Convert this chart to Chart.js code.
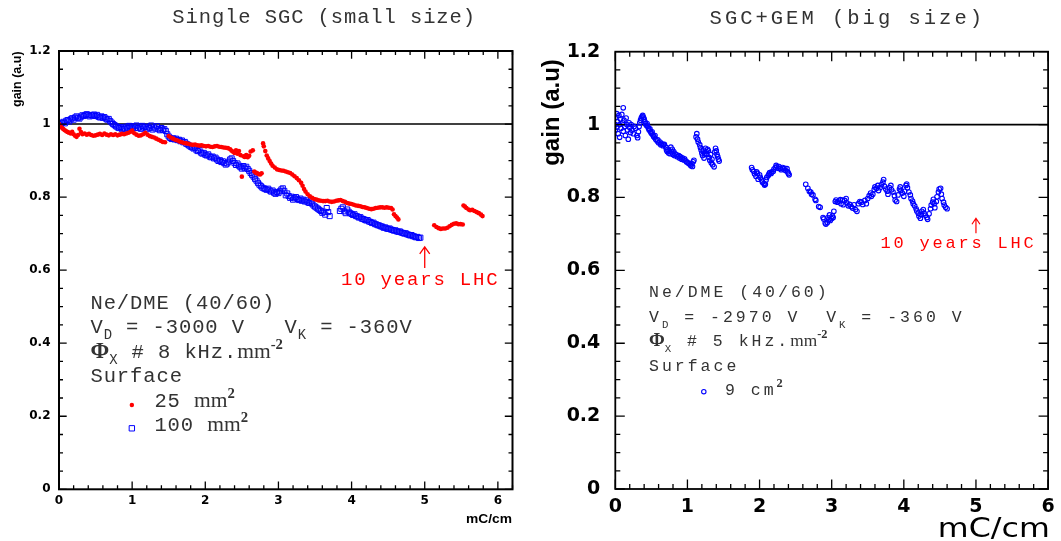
<!DOCTYPE html>
<html><head><meta charset="utf-8">
<script src="https://cdn.jsdelivr.net/npm/chart.js@4.4.1/dist/chart.umd.min.js"></script>
<style>
html,body{margin:0;padding:0;background:#fff;width:1061px;height:541px;overflow:hidden}
.wrap{position:absolute;top:0;height:541px}
#w1{left:0;width:530px}
#w2{left:530px;width:531px}
</style></head><body>
<div class="wrap" id="w1"><canvas id="c1" width="530" height="541"></canvas></div>
<div class="wrap" id="w2"><canvas id="c2" width="531" height="541"></canvas></div>
<script>
// ---------------- DATA ----------------
const panelTitles = ['Single SGC (small size)', 'SGC+GEM (big size)'];
const xTitle = 'mC/cm';
const yTitle = 'gain (a.u)';
const xRangeLeft = [0, 6.2];
const xRangeRight = [0, 6];
const yRange = [0, 1.2];
const xMajorStep = 1, xMinorStep = 0.2, yMajorStep = 0.2, yMinorStep = 0.05;
const referenceGain = 1;
const lhcDose = 5; // "10 years LHC"

// Single SGC, 25 mm2 (red dots)
const gain25mm2 = [
[0.00,1.000],[0.02,0.995],[0.04,0.990],[0.06,0.986],[0.08,0.983],[0.10,0.980],[0.12,0.978],[0.14,0.976],[0.16,0.974],[0.18,0.979],[0.20,0.972],[0.22,0.968],[0.24,0.965],[0.26,0.970],[0.28,0.987],[0.30,0.978],[0.32,0.972],[0.35,0.974],[0.38,0.971],[0.41,0.973],[0.44,0.970],[0.47,0.968],[0.50,0.969],[0.53,0.971],[0.56,0.973],[0.59,0.970],[0.62,0.974],[0.65,0.971],[0.68,0.969],[0.71,0.972],[0.74,0.970],[0.77,0.972],[0.80,0.969],[0.83,0.971],[0.86,0.973],[0.89,0.972],[0.92,0.974],[0.95,0.976],[0.98,0.979],[1.00,0.982],[1.03,0.975],[1.06,0.971],[1.09,0.968],[1.12,0.969],[1.15,0.972],[1.18,0.976],[1.21,0.971],[1.24,0.967],[1.27,0.965],[1.30,0.963],[1.33,0.960],[1.36,0.957],[1.39,0.954],[1.42,0.951],[1.45,0.950],
[1.50,0.967],[1.53,0.963],[1.56,0.960],[1.59,0.957],[1.62,0.955],[1.65,0.952],[1.68,0.950],[1.71,0.948],[1.74,0.947],[1.77,0.946],[1.80,0.944],[1.83,0.943],[1.86,0.944],[1.89,0.942],[1.92,0.941],[1.95,0.942],[1.98,0.940],[2.01,0.939],[2.04,0.940],[2.07,0.938],[2.10,0.937],[2.13,0.939],[2.16,0.940],[2.19,0.938],[2.22,0.937],[2.25,0.936],[2.28,0.935],[2.31,0.934],[2.34,0.931],[2.36,0.927],[2.38,0.924],[2.40,0.921],[2.42,0.928],[2.44,0.919],[2.46,0.926],[2.48,0.915],[2.50,0.856],[2.52,0.912],[2.54,0.910],[2.56,0.915],[2.58,0.909],[2.60,0.913],[2.62,0.925],[2.65,0.928],[2.67,0.870],[2.69,0.867],[2.71,0.865],[2.73,0.863],[2.75,0.862],[2.77,0.865],
[2.79,0.947],[2.80,0.939],[2.82,0.926],[2.84,0.914],[2.86,0.906],[2.88,0.899],[2.90,0.892],[2.92,0.886],[2.95,0.881],[2.98,0.876],[3.01,0.874],[3.04,0.873],[3.07,0.872],[3.10,0.870],[3.13,0.868],[3.16,0.866],[3.19,0.862],[3.22,0.857],[3.25,0.852],[3.28,0.846],[3.31,0.839],[3.33,0.831],[3.35,0.822],[3.37,0.815],[3.40,0.808],[3.43,0.802],[3.46,0.798],[3.49,0.795],[3.52,0.793],[3.55,0.791],[3.58,0.790],[3.61,0.789],[3.64,0.789],[3.67,0.790],[3.70,0.788],[3.73,0.787],[3.76,0.788],[3.79,0.790],[3.82,0.791],[3.85,0.792],[3.88,0.789],[3.91,0.787],[3.94,0.784],[3.97,0.782],[4.00,0.781],[4.03,0.779],[4.06,0.777],[4.09,0.776],[4.12,0.775],[4.15,0.773],[4.18,0.772],[4.21,0.770],[4.24,0.768],[4.27,0.767],[4.30,0.768],[4.33,0.770],[4.36,0.771],[4.39,0.772],[4.42,0.772],[4.45,0.771],[4.48,0.772],[4.51,0.771],[4.54,0.770],[4.56,0.766],[4.58,0.753],[4.60,0.748],[4.62,0.744],[4.64,0.739],
[5.13,0.723],[5.16,0.718],[5.19,0.715],[5.22,0.713],[5.25,0.714],[5.28,0.714],[5.31,0.716],[5.34,0.720],[5.37,0.724],[5.40,0.727],[5.43,0.728],[5.46,0.726],[5.49,0.726],[5.52,0.725],
[5.53,0.777],[5.55,0.774],[5.57,0.770],[5.60,0.766],[5.62,0.764],[5.65,0.765],[5.68,0.762],[5.71,0.759],[5.74,0.756],[5.77,0.752],[5.79,0.748]
];

// Single SGC, 100 mm2 (blue open squares)
const gain100mm2 = [
[0.00,1.000],[0.02,0.996],[0.04,1.003],[0.06,1.006],[0.08,1.002],[0.10,1.009],[0.12,1.011],[0.14,1.007],[0.16,1.013],[0.18,1.016],[0.20,1.012],[0.22,1.018],[0.24,1.021],[0.26,1.017],[0.28,1.015],[0.30,1.020],[0.32,1.024],[0.34,1.022],[0.36,1.025],[0.38,1.027],[0.40,1.024],[0.42,1.021],[0.44,1.025],[0.46,1.023],[0.48,1.026],[0.50,1.022],[0.52,1.025],[0.54,1.020],[0.56,1.018],[0.58,1.021],[0.60,1.017],[0.62,1.019],[0.64,1.015],[0.66,1.012],[0.68,1.014],[0.70,1.008],[0.72,1.004],[0.74,1.000],[0.76,0.997],[0.78,0.994],[0.80,0.991],[0.82,0.989],[0.84,0.992],[0.86,0.986],[0.88,0.990],[0.90,0.987],[0.92,0.993],[0.94,0.989],[0.96,0.995],[0.98,0.991],[1.00,0.988],[1.02,0.994],[1.04,0.990],[1.06,0.996],[1.08,0.989],[1.10,0.993],[1.12,0.987],[1.14,0.995],[1.16,0.990],[1.18,0.992],[1.20,0.986],[1.22,0.993],[1.24,0.989],[1.26,0.996],[1.28,0.985],[1.30,0.991],[1.32,0.988],[1.34,0.994],[1.36,0.986],[1.38,0.983],[1.40,0.989],[1.42,0.984],[1.44,0.986],[1.46,0.981],[1.48,0.972],
[1.50,0.966],[1.52,0.962],[1.54,0.959],[1.56,0.961],[1.58,0.958],[1.60,0.960],[1.62,0.956],[1.64,0.957],[1.66,0.953],[1.68,0.955],[1.70,0.950],[1.72,0.951],[1.74,0.946],[1.76,0.944],[1.78,0.941],[1.80,0.938],[1.82,0.936],[1.84,0.933],[1.86,0.935],[1.88,0.928],[1.90,0.926],[1.92,0.929],[1.94,0.922],[1.96,0.919],[1.98,0.921],[2.00,0.916],[2.02,0.914],[2.04,0.917],[2.06,0.911],[2.08,0.909],[2.10,0.911],[2.12,0.906],[2.14,0.908],[2.16,0.903],[2.18,0.899],[2.20,0.901],[2.22,0.896],[2.24,0.898],[2.26,0.893],[2.28,0.889],[2.30,0.892],[2.32,0.897],[2.34,0.903],[2.36,0.906],[2.38,0.899],[2.40,0.893],[2.42,0.888],[2.44,0.892],[2.46,0.886],[2.48,0.882],[2.50,0.878],[2.52,0.885],[2.54,0.879],[2.56,0.883],[2.58,0.877],[2.60,0.872],[2.62,0.866],[2.64,0.861],[2.66,0.856],[2.68,0.850],[2.70,0.845],[2.72,0.839],[2.74,0.834],[2.76,0.830],[2.78,0.826],[2.80,0.824],[2.82,0.822],[2.84,0.820],[2.86,0.823],[2.88,0.818],[2.90,0.815],[2.92,0.818],[2.94,0.812],[2.96,0.809],[2.98,0.814],[3.00,0.811],[3.02,0.816],[3.04,0.821],[3.06,0.824],[3.08,0.817],[3.10,0.805],[3.12,0.810],[3.14,0.803],[3.16,0.798],[3.18,0.801],[3.20,0.793],[3.22,0.797],[3.24,0.800],[3.26,0.795],[3.28,0.792],[3.30,0.796],[3.32,0.790],[3.34,0.793],[3.36,0.788],[3.38,0.791],[3.40,0.786],[3.42,0.784],[3.44,0.788],[3.46,0.782],[3.48,0.777],[3.50,0.774],[3.52,0.771],[3.54,0.768],[3.56,0.765],[3.58,0.762],[3.60,0.757],[3.62,0.760],[3.64,0.752],[3.66,0.770],[3.68,0.759],[3.70,0.748],
[3.84,0.762],[3.86,0.768],[3.88,0.772],[3.90,0.761],[3.92,0.756],[3.94,0.766],[3.96,0.760],[3.98,0.756],[4.00,0.754],[4.02,0.751],[4.04,0.753],[4.06,0.748],[4.08,0.747],[4.10,0.744],[4.12,0.745],[4.14,0.741],[4.16,0.740],[4.18,0.738],[4.20,0.736],[4.22,0.737],[4.24,0.733],[4.26,0.732],[4.28,0.729],[4.30,0.730],[4.32,0.726],[4.34,0.725],[4.36,0.723],[4.38,0.722],[4.40,0.720],[4.42,0.719],[4.44,0.716],[4.46,0.717],[4.48,0.714],[4.50,0.713],[4.52,0.714],[4.54,0.711],[4.56,0.710],[4.58,0.708],[4.60,0.709],[4.62,0.706],[4.64,0.705],[4.66,0.706],[4.68,0.703],[4.70,0.702],[4.72,0.700],[4.74,0.701],[4.76,0.698],[4.78,0.697],[4.80,0.695],[4.82,0.696],[4.84,0.693],[4.86,0.692],[4.88,0.690],[4.90,0.691],[4.92,0.688],[4.94,0.689]
];

// SGC+GEM, 9 cm2 (blue open circles)
const gain9cm2 = [
[0.00,1.000],[0.00,0.985],[0.01,1.020],[0.02,1.030],[0.02,0.993],[0.03,1.008],[0.04,0.975],[0.05,1.025],[0.06,1.000],[0.06,0.965],[0.07,1.015],[0.08,0.990],[0.09,1.028],[0.10,1.005],[0.11,1.046],[0.11,0.982],[0.12,1.012],[0.13,0.995],[0.14,0.970],[0.15,1.018],[0.16,1.000],[0.17,0.985],[0.18,0.960],[0.19,1.005],[0.20,0.992],[0.21,0.978],[0.22,1.000],[0.23,0.985],[0.25,0.975],[0.26,0.995],[0.28,0.990],[0.30,0.970],[0.31,0.964],[0.32,0.980],[0.33,0.995],[0.34,1.005],[0.35,1.012],[0.36,1.018],[0.37,1.022],[0.38,1.025],[0.39,1.020],[0.40,1.015],[0.41,1.008],[0.42,1.002],[0.43,0.998],[0.44,1.003],[0.45,0.995],[0.46,0.990],[0.47,0.985],[0.48,0.988],[0.49,0.980],[0.50,0.976],[0.51,0.980],[0.52,0.972],[0.53,0.968],[0.54,0.965],[0.55,0.970],[0.56,0.960],[0.58,0.955],[0.59,0.958],[0.60,0.950],[0.62,0.952],[0.63,0.945],[0.64,0.948],[0.66,0.942],[0.67,0.945],[0.68,0.946],[0.70,0.938],[0.71,0.930],[0.72,0.926],[0.73,0.932],[0.74,0.922],[0.75,0.928],[0.76,0.920],[0.77,0.938],[0.78,0.925],[0.79,0.932],[0.80,0.918],[0.81,0.926],[0.82,0.915],[0.83,0.920],[0.85,0.917],[0.86,0.912],[0.88,0.915],[0.89,0.908],[0.90,0.912],[0.92,0.905],[0.93,0.909],[0.95,0.903],[0.96,0.906],[0.98,0.900],[0.99,0.897],[1.01,0.895],[1.02,0.893],[1.04,0.890],[1.05,0.887],[1.06,0.893],[1.07,0.885],[1.08,0.898],[1.09,0.902],
[1.12,0.966],[1.13,0.975],[1.14,0.960],[1.15,0.952],[1.17,0.945],[1.18,0.937],[1.19,0.930],[1.20,0.922],[1.21,0.915],[1.22,0.930],[1.23,0.908],[1.24,0.920],[1.25,0.935],[1.26,0.926],[1.27,0.918],[1.28,0.932],[1.29,0.928],[1.30,0.910],[1.31,0.902],[1.32,0.918],[1.33,0.895],[1.34,0.905],[1.35,0.890],[1.37,0.884],[1.38,0.925],[1.39,0.935],[1.40,0.928],[1.41,0.918],[1.42,0.912],[1.43,0.905],[1.44,0.900],
[1.89,0.882],[1.90,0.876],[1.92,0.872],[1.93,0.865],[1.95,0.858],[1.96,0.870],[1.97,0.866],[1.98,0.850],[2.00,0.862],[2.01,0.855],[2.03,0.848],[2.04,0.842],[2.06,0.838],[2.07,0.834],[2.08,0.836],[2.09,0.848],[2.10,0.855],[2.12,0.860],[2.13,0.864],[2.14,0.868],[2.16,0.866],[2.17,0.870],[2.19,0.872],[2.20,0.878],[2.22,0.882],[2.23,0.888],[2.24,0.884],[2.26,0.880],[2.27,0.885],[2.29,0.880],[2.30,0.876],[2.32,0.882],[2.33,0.878],[2.35,0.880],[2.36,0.874],[2.38,0.879],[2.39,0.870],[2.40,0.866],[2.41,0.862],
[2.64,0.836],[2.67,0.825],[2.69,0.817],[2.71,0.815],[2.72,0.809],[2.74,0.807],[2.77,0.795],[2.78,0.792],[2.82,0.775],[2.84,0.773],[2.88,0.745],[2.89,0.741],[2.91,0.730],[2.92,0.727],[2.94,0.731],[2.95,0.745],[2.96,0.739],[2.97,0.752],[2.98,0.737],[3.00,0.742],[3.01,0.749],[3.02,0.745],[3.03,0.762],[3.05,0.789],[3.06,0.793],[3.08,0.787],[3.10,0.790],[3.12,0.794],[3.13,0.783],[3.15,0.793],[3.16,0.780],[3.18,0.792],[3.20,0.797],[3.21,0.785],[3.23,0.777],[3.25,0.781],[3.27,0.775],[3.29,0.771],[3.31,0.780],[3.33,0.767],[3.35,0.762],[3.37,0.783],[3.39,0.789],[3.41,0.787],[3.43,0.781],[3.46,0.792],[3.48,0.783],[3.50,0.797],[3.52,0.805],[3.54,0.812],[3.55,0.803],[3.57,0.809],[3.59,0.822],[3.60,0.829],[3.62,0.825],[3.64,0.833],[3.65,0.819],[3.67,0.827],[3.69,0.835],[3.71,0.842],[3.72,0.849],[3.73,0.831],[3.75,0.823],[3.77,0.817],[3.78,0.809],[3.80,0.827],[3.82,0.833],[3.83,0.821],[3.85,0.815],[3.87,0.805],[3.88,0.793],[3.90,0.789],[3.92,0.807],[3.94,0.823],[3.95,0.829],[3.96,0.819],[3.98,0.812],[4.00,0.803],[4.01,0.817],[4.03,0.833],[4.04,0.837],[4.05,0.827],[4.07,0.815],[4.09,0.807],[4.10,0.797],[4.12,0.790],[4.13,0.783],[4.15,0.777],[4.17,0.769],[4.18,0.763],[4.20,0.757],[4.21,0.749],[4.23,0.743],[4.24,0.753],[4.25,0.762],[4.27,0.767],[4.28,0.757],[4.30,0.751],[4.32,0.745],[4.33,0.740],[4.35,0.755],[4.37,0.769],[4.38,0.779],[4.40,0.787],[4.41,0.795],[4.42,0.783],[4.43,0.772],[4.45,0.789],[4.46,0.802],[4.48,0.815],[4.49,0.823],[4.51,0.825],[4.52,0.809],[4.53,0.797],[4.55,0.787],[4.56,0.779],[4.58,0.773],[4.60,0.769]
];

// ---------------- HELPERS ----------------
const MONO = '"Liberation Mono", "DejaVu Sans Mono", monospace';
const SERIF = '"Liberation Serif", "DejaVu Serif", serif';
const toXY = arr => arr.map(p => ({x: p[0], y: p[1]}));

function stepValues(min, max, step) {
  const out = [];
  const n = Math.round((max - min) / step);
  for (let i = 0; i <= n; i++) {
    const v = +(min + i * step).toFixed(6);
    if (v <= max + 1e-9) out.push(v);
  }
  return out;
}
function isMultiple(v, step) { return Math.abs(v / step - Math.round(v / step)) < 1e-6; }

function drawSpaced(ctx, text, x, y, ls) {
  let cx = x;
  for (const ch of text) {
    ctx.fillText(ch, cx, y);
    cx += ctx.measureText(ch).width + ls;
  }
  return cx;
}
function spacedWidth(ctx, text, ls) {
  let w = 0;
  for (const ch of text) w += ctx.measureText(ch).width + ls;
  return w;
}
function drawRich(ctx, segs, x, y, base) {
  let cx = x;
  for (const s of segs) {
    const size = base.size * (s.scale || 1);
    ctx.font = (s.weight || 'normal') + ' ' + size + 'px ' + (s.family || base.family);
    ctx.fillStyle = s.color || base.color;
    const dy = (s.dy || 0) * base.size;
    cx = drawSpaced(ctx, s.t, cx, y + dy, s.ls !== undefined ? s.ls : base.ls);
  }
}
function drawFitted(ctx, text, x, y, font, targetW, align) {
  ctx.font = font;
  const w = ctx.measureText(text).width;
  const sx = targetW / w;
  ctx.save();
  ctx.translate(align === 'right' ? x - targetW : x, y);
  ctx.scale(sx, 1);
  ctx.textAlign = 'left';
  ctx.fillText(text, 0, 0);
  ctx.restore();
}

// frame with inward major/minor ticks on all four sides
const framePlugin = {
  id: 'frame',
  afterDatasetsDraw(chart, args, o) {
    const {ctx, chartArea: a} = chart;
    const xs = chart.scales.x, ys = chart.scales.y;
    ctx.save();
    ctx.strokeStyle = '#000';
    ctx.lineWidth = o.tickWidth;
    ctx.beginPath();
    for (const v of stepValues(xs.min, xs.max, xMinorStep)) {
      const len = isMultiple(v, xMajorStep) ? o.major : o.minor;
      const p = xs.getPixelForValue(v);
      ctx.moveTo(p, a.bottom); ctx.lineTo(p, a.bottom - len);
      ctx.moveTo(p, a.top); ctx.lineTo(p, a.top + len);
    }
    for (const v of stepValues(ys.min, ys.max, yMinorStep)) {
      const len = isMultiple(v, yMajorStep) ? o.major : o.minor;
      const p = ys.getPixelForValue(v);
      ctx.moveTo(a.left, p); ctx.lineTo(a.left + len, p);
      ctx.moveTo(a.right, p); ctx.lineTo(a.right - len, p);
    }
    ctx.stroke();
    ctx.lineWidth = o.frameWidth;
    ctx.strokeRect(a.left, a.top, a.right - a.left, a.bottom - a.top);
    ctx.restore();
  }
};

// titles, axis labels, notes, arrows, legend markers
const textPlugin = {
  id: 'panelText',
  afterDatasetsDraw(chart, args, o) {
    const ctx = chart.ctx;
    const xs = chart.scales.x, ys = chart.scales.y;
    ctx.save();
    ctx.textBaseline = 'alphabetic';
    ctx.textAlign = 'left';
    // title
    const t = o.title;
    ctx.font = t.size + 'px ' + MONO;
    ctx.fillStyle = t.color;
    const tw = spacedWidth(ctx, t.text, t.ls) - t.ls;
    drawSpaced(ctx, t.text, t.cx - tw / 2, t.y, t.ls);
    // y axis title
    const yl = o.yLabel;
    ctx.save();
    ctx.translate(yl.cx, yl.cy);
    ctx.rotate(-Math.PI / 2);
    ctx.font = yl.font;
    ctx.fillStyle = '#000';
    ctx.textAlign = 'center';
    ctx.textBaseline = 'middle';
    ctx.fillText(yTitle, 0, 0);
    ctx.restore();
    // x axis title
    const xl = o.xLabel;
    ctx.fillStyle = '#000';
    ctx.textBaseline = 'alphabetic';
    drawFitted(ctx, xTitle, xl.right, xl.baseline, xl.font, xl.width, 'right');
    // arrow
    const ar = o.arrow;
    const ax = xs.getPixelForValue(lhcDose);
    const ay0 = ys.getPixelForValue(ar.y0), ay1 = ys.getPixelForValue(ar.y1);
    ctx.strokeStyle = ar.color; ctx.lineWidth = ar.width;
    ctx.beginPath();
    ctx.moveTo(ax, ay0); ctx.lineTo(ax, ay1);
    ctx.moveTo(ax - ar.hw, ay1 + ar.hl); ctx.lineTo(ax, ay1); ctx.lineTo(ax + ar.hw, ay1 + ar.hl);
    ctx.stroke();
    // notes
    for (const n of o.notes) {
      drawRich(ctx, n.segs, xs.getPixelForValue(n.at[0]), ys.getPixelForValue(n.at[1]),
               {size: n.size, family: MONO, color: n.color, ls: n.ls});
    }
    // legend markers
    for (const m of o.markers) {
      ctx.fillStyle = m.style.backgroundColor;
      ctx.strokeStyle = m.style.borderColor;
      ctx.lineWidth = m.style.borderWidth;
      Chart.helpers.drawPoint(ctx, m.style, xs.getPixelForValue(m.at[0]), ys.getPixelForValue(m.at[1]));
    }
    ctx.restore();
  }
};

function tickLabel(v) { return String(Math.round(v * 10) / 10); }

function makeChart(canvasId, cfg) {
  return new Chart(document.getElementById(canvasId), {
    type: 'scatter',
    data: { datasets: cfg.datasets },
    options: {
      responsive: false,
      animation: false,
      devicePixelRatio: 1,
      events: [],
      layout: { padding: cfg.padding },
      plugins: {
        legend: { display: false },
        tooltip: { enabled: false },
        title: { display: false },
        frame: cfg.frame,
        panelText: cfg.text
      },
      scales: {
        x: {
          type: 'linear', min: cfg.xRange[0], max: cfg.xRange[1],
          grid: { display: false, drawTicks: false }, border: { display: false },
          ticks: { stepSize: xMajorStep, includeBounds: false, autoSkip: false, maxRotation: 0,
                   padding: cfg.xPad, color: '#000', font: cfg.tickFont, callback: tickLabel },
          afterFit(s) { s.height = cfg.xAxisH; }
        },
        y: {
          type: 'linear', min: yRange[0], max: yRange[1],
          grid: { display: false, drawTicks: false }, border: { display: false },
          ticks: { stepSize: yMajorStep, includeBounds: false, autoSkip: false,
                   padding: cfg.yPad, color: '#000', font: cfg.tickFont, callback: tickLabel },
          afterFit(s) { s.width = cfg.yAxisW; }
        }
      }
    },
    plugins: [framePlugin, textPlugin]
  });
}

const RED = '#ff0000', BLUE = '#0000ff', TXT = '#333333';
const red25Style = { pointStyle: 'circle', radius: 2.2, backgroundColor: RED, borderColor: RED, borderWidth: 0 };
const blue100Style = { pointStyle: 'rect', radius: 3.8, backgroundColor: 'rgba(0,0,0,0)', borderColor: BLUE, borderWidth: 1 };
const blue9Style = { pointStyle: 'circle', radius: 2.2, backgroundColor: 'rgba(0,0,0,0)', borderColor: BLUE, borderWidth: 1.1 };

// ---------------- LEFT PANEL ----------------
makeChart('c1', {
  xRange: xRangeLeft,
  padding: { left: 0, right: 17.5, top: 51, bottom: 0 },
  yAxisW: 59, xAxisH: 51.7, xPad: 4.3, yPad: 8.5,
  tickFont: { family: '"DejaVu Sans", sans-serif', weight: 'bold', size: 12 },
  datasets: [
    { label: '25 mm2', data: toXY(gain25mm2), pointStyle: 'circle', pointRadius: 2.3,
      backgroundColor: RED, borderColor: RED, borderWidth: 0 },
    { label: '100 mm2', data: toXY(gain100mm2), pointStyle: 'rect', pointRadius: 3.6,
      backgroundColor: 'rgba(0,0,0,0)', borderColor: BLUE, borderWidth: 1 },
    { label: 'reference', type: 'line', data: toXY([[xRangeLeft[0], referenceGain], [xRangeLeft[1], referenceGain]]),
      showLine: true, pointRadius: 0, borderColor: '#000', borderWidth: 1.4 }
  ],
  frame: { major: 7.7, minor: 4, tickWidth: 1.3, frameWidth: 2 },
  text: {
    title: { text: panelTitles[0], cx: 323.7, y: 22.7, size: 20.5, ls: 0.9, color: TXT },
    yLabel: { cx: 18, cy: 79.2, font: 'bold 12.5px "Liberation Sans", Arial, sans-serif' },
    xLabel: { right: 512, baseline: 523, width: 46, font: 'bold 13.5px "Liberation Sans", Arial, sans-serif' },
    arrow: { y0: 0.606, y1: 0.664, color: RED, width: 1.3, hw: 5, hl: 7 },
    notes: [
      { at: [3.855, 0.559], size: 19, ls: 1.8, color: RED, segs: [{t: '10 years LHC'}] },
      { at: [0.43, 0.4927], size: 20.5, ls: 0.9, color: TXT, segs: [{t: 'Ne/DME (40/60)'}] },
      { at: [0.43, 0.427], size: 20.5, ls: 0.9, color: TXT, segs: [
        {t: 'V'}, {t: 'D', scale: 0.68, dy: 0.28}, {t: ' = -3000 V   V'}, {t: 'K', scale: 0.68, dy: 0.28}, {t: ' = -360V'}] },
      { at: [0.43, 0.360], size: 20.5, ls: 0.9, color: TXT, segs: [
        {t: 'Φ', family: SERIF, weight: 'bold', scale: 1.1, ls: 0}, {t: 'X', scale: 0.68, dy: 0.28}, {t: ' # 8 kHz.'},
        {t: 'mm', family: SERIF, scale: 1.05, ls: 0}, {t: '-2', family: SERIF, weight: 'bold', scale: 0.72, dy: -0.45, ls: 0}] },
      { at: [0.43, 0.2946], size: 20.5, ls: 0.9, color: TXT, segs: [{t: 'Surface'}] },
      { at: [1.304, 0.2255], size: 20.5, ls: 0.9, color: TXT, segs: [
        {t: '25 '}, {t: 'mm', family: SERIF, scale: 1.05, ls: 0}, {t: '2', family: SERIF, weight: 'bold', scale: 0.72, dy: -0.45}] },
      { at: [1.304, 0.1598], size: 20.5, ls: 0.9, color: TXT, segs: [
        {t: '100 '}, {t: 'mm', family: SERIF, scale: 1.05, ls: 0}, {t: '2', family: SERIF, weight: 'bold', scale: 0.72, dy: -0.45}] }
    ],
    markers: [
      { at: [0.996, 0.2308], style: red25Style },
      { at: [0.996, 0.167], style: blue100Style }
    ]
  }
});

// ---------------- RIGHT PANEL ----------------
makeChart('c2', {
  xRange: xRangeRight,
  padding: { left: 0, right: 10.5, top: 51.7, bottom: 0 },
  yAxisW: 85.3, xAxisH: 52, xPad: 6.3, yPad: 15,
  tickFont: { family: '"DejaVu Sans", sans-serif', weight: 'bold', size: 19 },
  datasets: [
    { label: '9 cm2', data: toXY(gain9cm2), pointStyle: 'circle', pointRadius: 2.3,
      backgroundColor: 'rgba(0,0,0,0)', borderColor: BLUE, borderWidth: 1.1 },
    { label: 'reference', type: 'line', data: toXY([[xRangeRight[0], referenceGain], [xRangeRight[1], referenceGain]]),
      showLine: true, pointRadius: 0, borderColor: '#000', borderWidth: 1.6 }
  ],
  frame: { major: 9.5, minor: 5, tickWidth: 1.3, frameWidth: 1.8 },
  text: {
    title: { text: panelTitles[1], cx: 315.8, y: 24, size: 20.5, ls: 3, color: TXT },
    yLabel: { cx: 22, cy: 112.5, font: 'bold 24px "Liberation Sans", Arial, sans-serif' },
    xLabel: { right: 519.8, baseline: 537, width: 112, font: '26px "DejaVu Sans", sans-serif' },
    arrow: { y0: 0.7017, y1: 0.743, color: RED, width: 1.2, hw: 4, hl: 6 },
    notes: [
      { at: [3.677, 0.6605], size: 17, ls: 2.8, color: RED, segs: [{t: '10 years LHC'}] },
      { at: [0.467, 0.526], size: 16.5, ls: 3, color: TXT, segs: [{t: 'Ne/DME (40/60)'}] },
      { at: [0.467, 0.4575], size: 16.5, ls: 3, color: TXT, segs: [
        {t: 'V'}, {t: 'D', scale: 0.65, dy: 0.35}, {t: ' = -2970 V  V'}, {t: 'K', scale: 0.65, dy: 0.35}, {t: ' = -360 V'}] },
      { at: [0.467, 0.392], size: 16.5, ls: 3, color: TXT, segs: [
        {t: 'Φ', family: SERIF, weight: 'bold', scale: 1.15, ls: 0}, {t: 'X', scale: 0.65, dy: 0.35}, {t: ' # 5 kHz.'},
        {t: 'mm', family: SERIF, scale: 1.05, ls: 0}, {t: '-2', family: SERIF, weight: 'bold', scale: 0.75, dy: -0.5, ls: 0}] },
      { at: [0.467, 0.324], size: 16.5, ls: 3, color: TXT, segs: [{t: 'Surface'}] },
      { at: [1.521, 0.258], size: 16.5, ls: 3, color: TXT, segs: [
        {t: '9 cm'}, {t: '2', family: SERIF, weight: 'bold', scale: 0.75, dy: -0.5}] }
    ],
    markers: [
      { at: [1.227, 0.267], style: blue9Style }
    ]
  }
});
</script>
</body></html>
